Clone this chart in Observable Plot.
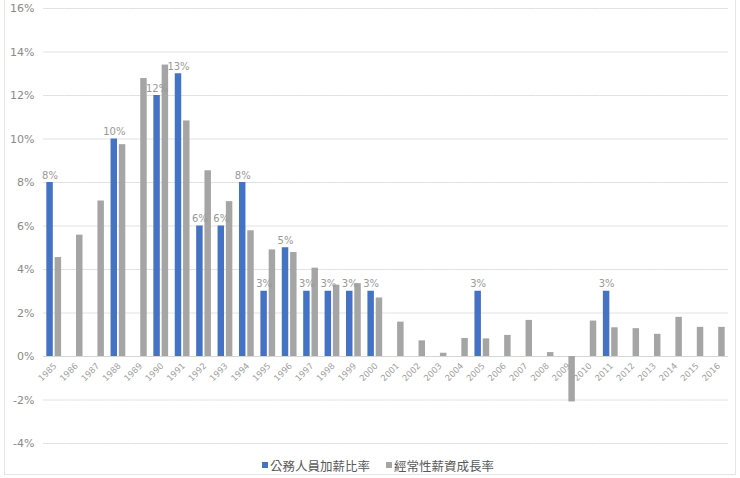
<!DOCTYPE html>
<html>
<head>
<meta charset="utf-8">
<script src="https://cdn.jsdelivr.net/npm/d3@7"></script>
<script src="https://cdn.jsdelivr.net/npm/@observablehq/plot@0.6"></script>
<style>
  html, body { margin: 0; padding: 0; background: #fff; }
  #wrap { position: relative; width: 740px; height: 478px; overflow: hidden; }
  #box { position: absolute; left: 4px; top: -2px; width: 732px; height: 477px; border: 1px solid #e4e4e4; box-sizing: border-box; pointer-events: none; }
  #chart { position: absolute; left: 0; top: 0; }
  #legend { position: absolute; left: 0; top: 453px; width: 756px; text-align: center; font-family: "Noto Sans CJK TC", "Noto Sans", sans-serif; font-size: 12.5px; color: #595959; }
  .key { display: inline-flex; align-items: center; margin: 0 8px; }
  .sw { display: inline-block; width: 6px; height: 6px; margin-right: 2px; }
</style>
</head>
<body>
<div id="wrap">
  <div id="chart"></div>
  <div id="legend"></div>
  <div id="box"></div>
</div>
<script>
const years = [1985,1986,1987,1988,1989,1990,1991,1992,1993,1994,1995,1996,1997,1998,1999,2000,
               2001,2002,2003,2004,2005,2006,2007,2008,2009,2010,2011,2012,2013,2014,2015,2016];
const raiseRate = [8,null,null,10,null,12,13,6,6,8,3,5,3,3,3,3,
                   null,null,null,null,3,null,null,null,null,null,3,null,null,null,null,null];
const wageGrowth = [4.55,5.58,7.15,9.74,12.78,13.4,10.83,8.54,7.12,5.78,4.9,4.78,4.06,3.28,3.35,2.69,
                    1.58,0.72,0.15,0.83,0.81,0.97,1.66,0.18,-2.09,1.63,1.32,1.28,1.02,1.8,1.34,1.34];
const seriesNames = ["公務人員加薪比率", "經常性薪資成長率"];
const seriesColors = ["#4472C4", "#A5A5A5"];
const yTicks = [-4,-2,0,2,4,6,8,10,12,14,16];

const rows = [];
years.forEach((yr, i) => {
  if (raiseRate[i] != null) rows.push({year: yr, series: seriesNames[0], value: raiseRate[i]});
  rows.push({year: yr, series: seriesNames[1], value: wageGrowth[i]});
});
const labelRows = rows.filter(d => d.series === seriesNames[0]);

const chart = Plot.plot({
  width: 740,
  height: 455,
  marginLeft: 43,
  marginRight: 12,
  marginTop: 8,
  marginBottom: 12,
  style: {fontFamily: "'DejaVu Sans', sans-serif", background: "transparent"},
  fx: {domain: years, padding: 0, axis: null, round: false, label: null},
  x: {domain: seriesNames, paddingInner: 0.22, paddingOuter: 0.4, axis: null, round: false, label: null},
  y: {domain: [-4, 16], axis: null, label: null},
  color: {domain: seriesNames, range: seriesColors},
  marks: [
    Plot.gridY(yTicks, {stroke: "#e2e2e2", strokeOpacity: 1, strokeWidth: 1}),
    Plot.ruleY([0], {stroke: "#d6d6d6", strokeWidth: 1}),
    Plot.barY(rows, {fx: "year", x: "series", y: "value", fill: "series"}),
    Plot.text(labelRows, {fx: "year", x: "series", y: "value", text: d => d.value + "%",
      lineAnchor: "bottom", dy: -4, fill: "#999999", fontSize: 10}),
    Plot.text(years, {fx: d => d, y: () => 0, text: d => String(d), rotate: -45,
      textAnchor: "end", lineAnchor: "middle", dx: 1, dy: 8, fill: "#a0a0a0", fontSize: 8.5}),
    Plot.axisY(yTicks, {tickSize: 0, tickPadding: 9, tickFormat: d => d + "%", label: null,
      fill: "#8a8a8a", fontSize: 11, facetAnchor: "left"})
  ]
});
document.getElementById("chart").appendChild(chart);

const legend = document.getElementById("legend");
seriesNames.forEach((name, i) => {
  const k = document.createElement("span");
  k.className = "key";
  const sw = document.createElement("span");
  sw.className = "sw";
  sw.style.background = seriesColors[i];
  k.appendChild(sw);
  k.appendChild(document.createTextNode(name));
  legend.appendChild(k);
});
</script>
</body>
</html>
